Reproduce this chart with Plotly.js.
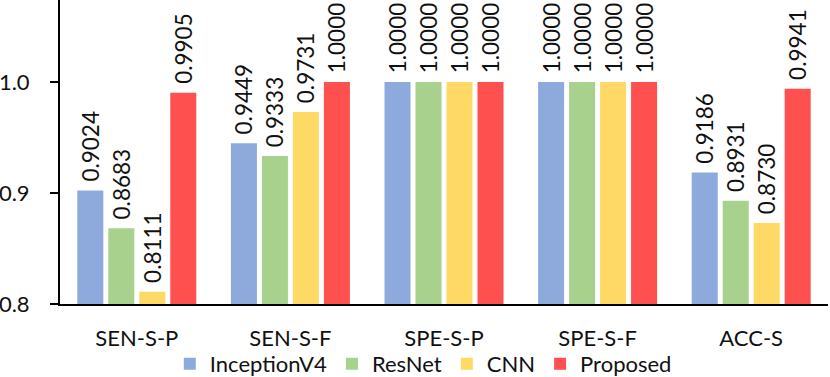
<!DOCTYPE html>
<html>
<head>
<meta charset="utf-8">
<script src="https://cdn.plot.ly/plotly-3.0.1.min.js"></script>
<style>
  html, body { margin: 0; padding: 0; background: #fff; }
  #chart { width: 830px; height: 377px; }
</style>
</head>
<body>
<div id="chart"></div>
<script>
// Metric categories on the x axis
const categories = ['SEN-S-P', 'SEN-S-F', 'SPE-S-P', 'SPE-S-F', 'ACC-S'];

// Scores of each model per metric
const inceptionV4 = [0.9024, 0.9449, 1.0000, 1.0000, 0.9186];
const resNet      = [0.8683, 0.9333, 1.0000, 1.0000, 0.8931];
const cnn         = [0.8111, 0.9731, 1.0000, 1.0000, 0.8730];
const proposed    = [0.9905, 1.0000, 1.0000, 1.0000, 0.9941];

const seriesNames = ['InceptionV4', 'ResNet', 'CNN', 'Proposed'];
const yTicks = [0.8, 0.9, 1.0];

const colors = ['#8eaadc', '#a9d18e', '#ffd966', '#ff5050'];
const fontFamily = 'Lato, "Open Sans", sans-serif';
const textColor = '#111111';

const allSeries = [inceptionV4, resNet, cnn, proposed];

const traces = allSeries.map((vals, i) => ({
  type: 'bar',
  name: seriesNames[i],
  x: categories,
  y: vals,
  marker: { color: colors[i] },
  // a non-breaking space keeps the value a little above the bar top
  text: vals.map(v => '\u00a0' + v.toFixed(4)),
  textposition: 'outside',
  textangle: -90,
  cliponaxis: false,
  constraintext: 'none',
  textfont: { family: fontFamily, size: 22.5, color: textColor },
  hoverinfo: 'x+y+name'
}));

const layout = {
  width: 830,
  height: 377,
  margin: { l: 60, r: 2, t: 0, b: 73, autoexpand: false },
  paper_bgcolor: '#ffffff',
  plot_bgcolor: '#ffffff',
  font: { family: fontFamily, size: 22, color: textColor },
  barmode: 'group',
  bargap: 0.193,
  bargroupgap: 0.16,
  showlegend: true,
  legend: {
    orientation: 'h',
    xref: 'container',
    yref: 'container',
    x: 0.51,
    xanchor: 'center',
    y: 1 - 364 / 377,
    yanchor: 'middle',
    bgcolor: 'rgba(0,0,0,0)',
    font: { family: fontFamily, size: 22, color: textColor },
    itemwidth: 30,
    tracegroupgap: 0
  },
  xaxis: {
    type: 'category',
    automargin: false,
    showline: true,
    linecolor: '#000000',
    linewidth: 2,
    ticks: '',
    showgrid: false,
    zeroline: false,
    ticklabelstandoff: 14,
    tickfont: { family: fontFamily, size: 22, color: textColor }
  },
  yaxis: {
    range: [0.8, 1.074],
    automargin: false,
    tickvals: yTicks,
    ticktext: yTicks.map(v => v.toFixed(1)),
    showline: true,
    linecolor: '#000000',
    linewidth: 2,
    ticks: 'outside',
    ticklen: 8,
    tickwidth: 2,
    tickcolor: '#000000',
    showgrid: false,
    zeroline: false,
    ticklabelstandoff: 16,
    tickfont: { family: fontFamily, size: 22, color: textColor }
  }
};

Plotly.newPlot('chart', traces, layout, { displayModeBar: false, staticPlot: true });
</script>
</body>
</html>
